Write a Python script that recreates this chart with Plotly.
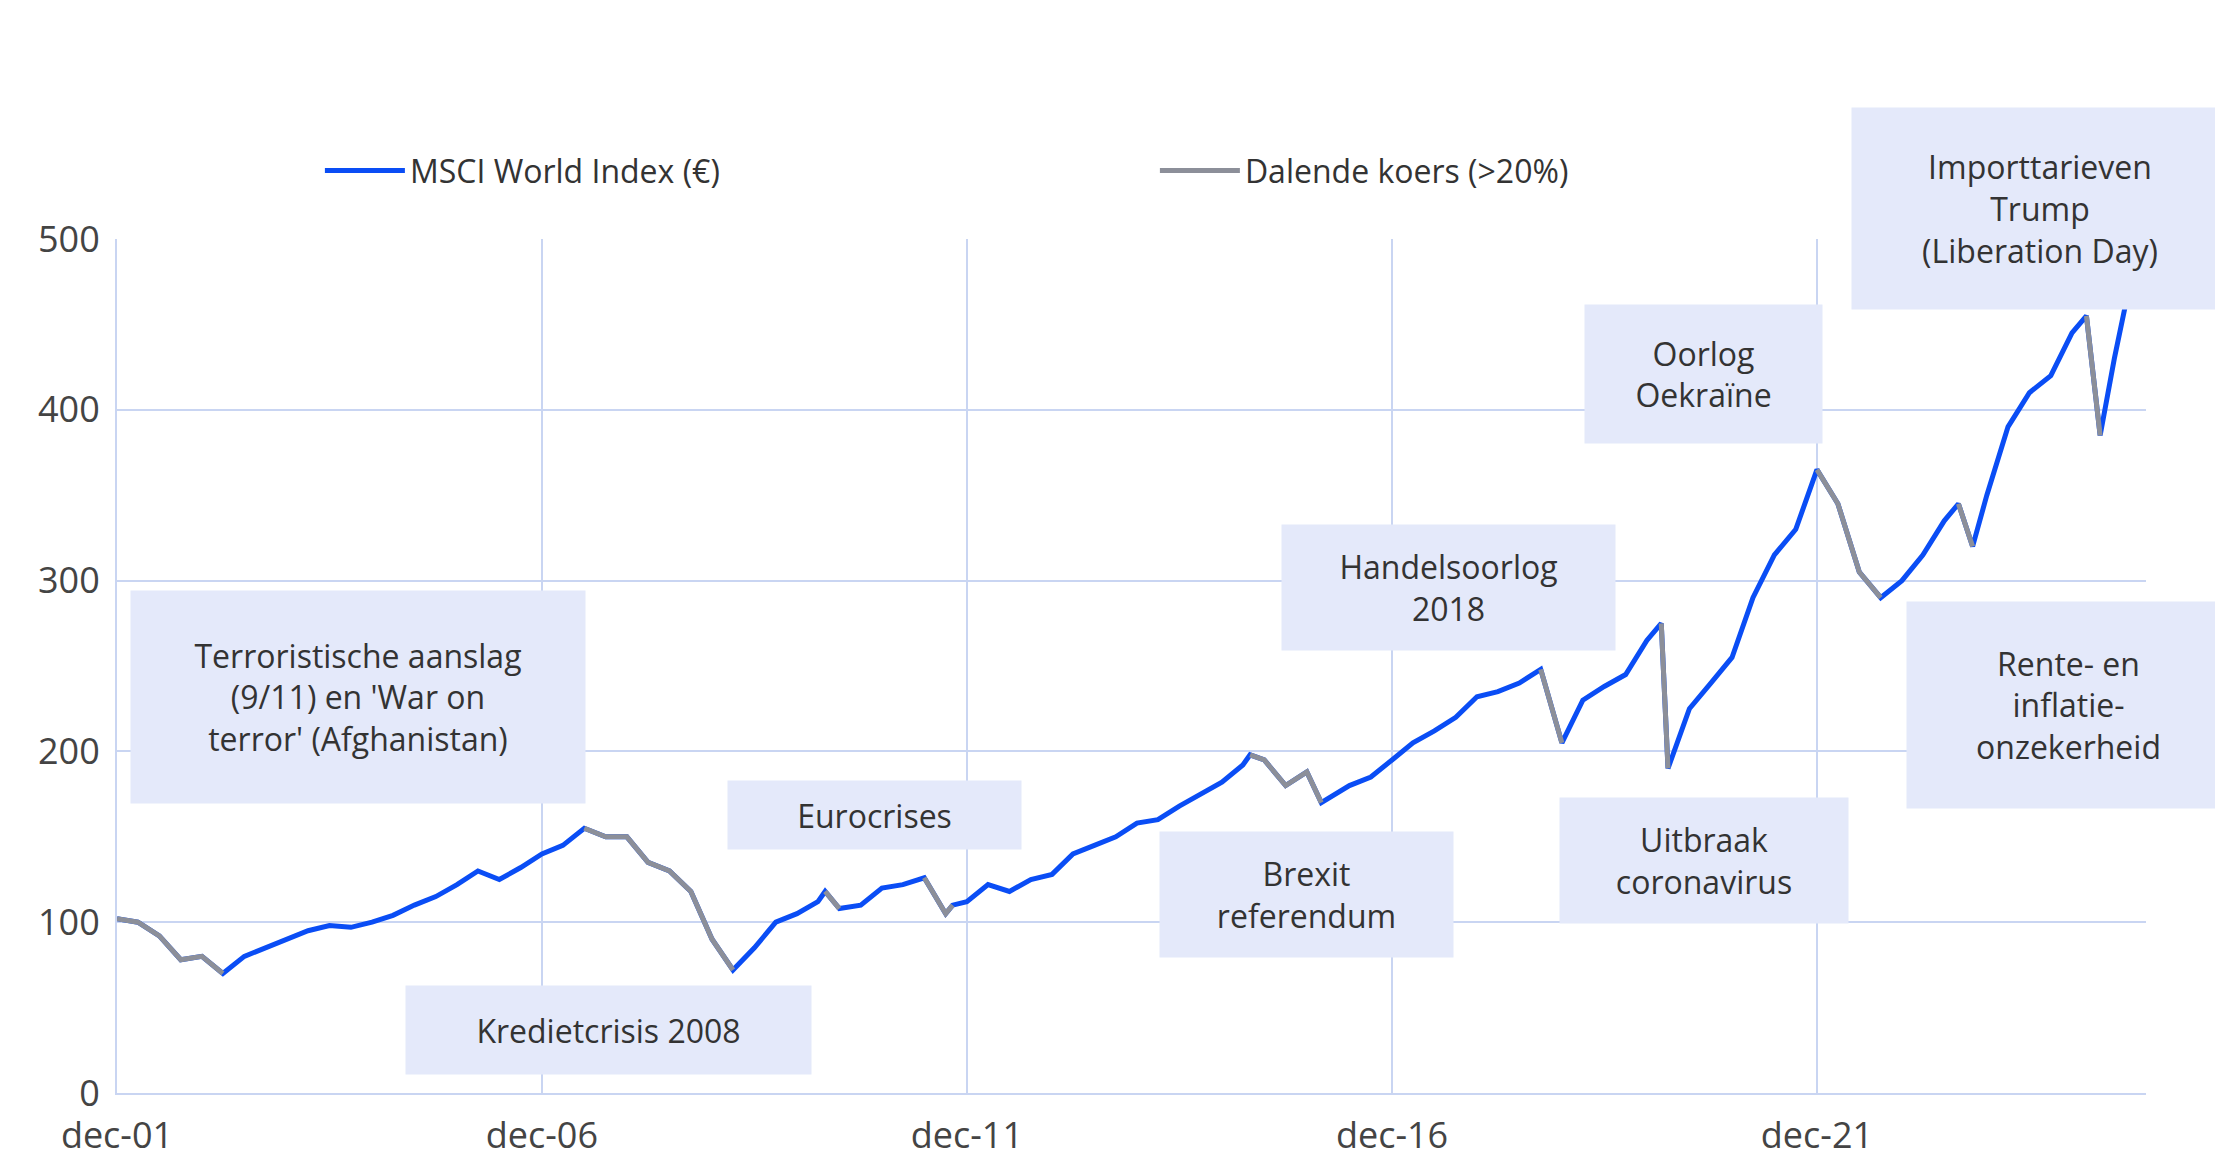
import plotly.graph_objects as go

dates = ["2001-12","2002-03","2002-06","2002-09","2002-12","2003-03","2003-06","2003-09","2003-12",
"2004-03","2004-06","2004-09","2004-12","2005-03","2005-06","2005-09","2005-12","2006-03","2006-06","2006-09","2006-12",
"2007-03","2007-06","2007-09","2007-12","2008-03","2008-06","2008-09","2008-12","2009-03","2009-06","2009-09","2009-12",
"2010-03","2010-04","2010-06","2010-09","2010-12","2011-03","2011-06","2011-09","2011-10","2011-12",
"2012-03","2012-06","2012-09","2012-12","2013-03","2013-06","2013-09","2013-12","2014-03","2014-06","2014-09","2014-12",
"2015-03","2015-04","2015-06","2015-09","2015-12","2016-02","2016-06","2016-09","2016-12",
"2017-03","2017-06","2017-09","2017-12","2018-03","2018-06","2018-09","2018-12","2019-03","2019-06","2019-09","2019-12",
"2020-02","2020-03","2020-06","2020-09","2020-12","2021-03","2021-06","2021-09","2021-12",
"2022-03","2022-06","2022-09","2022-12","2023-03","2023-06","2023-08","2023-10","2023-12",
"2024-03","2024-06","2024-09","2024-12","2025-02","2025-04","2025-06","2025-08","2025-10"]
values = [102,100,92,78,80,70,80,85,90,
95,98,97,100,104,110,115,122,130,125,132,140,
145,155,150,150,135,130,118,90,72,85,100,105,
112,118,108,110,120,122,126,105,110,112,
122,118,125,128,140,145,150,158,160,168,175,182,
192,198,195,180,188,170,180,185,195,
205,212,220,232,235,240,248,205,230,238,245,265,
275,190,225,240,255,290,315,330,365,
345,305,290,300,315,335,345,320,350,
390,410,420,445,455,385,430,470,510]
decline_periods = [("2001-12","2003-03"),("2007-06","2009-03"),("2010-04","2010-06"),("2011-06","2011-10"),
("2015-04","2016-02"),("2018-09","2018-12"),("2020-02","2020-03"),("2021-12","2022-09"),
("2023-08","2023-10"),("2025-02","2025-04")]

gray = [v if any(a <= d <= b for a, b in decline_periods) else None for d, v in zip(dates, values)]
xd = [d + "-01" for d in dates]

fig = go.Figure()
fig.add_trace(go.Scatter(x=xd, y=values, mode="lines", name="MSCI World Index (€)",
                         line=dict(color="#0a4df5", width=5), cliponaxis=False))
fig.add_trace(go.Scatter(x=xd, y=gray, mode="lines", name="Dalende koers (>20%)",
                         line=dict(color="#8c8f99", width=5), connectgaps=False))

notes = [
 ("2004-10-01",232,"Terroristische aanslag<br>(9/11) en 'War on<br>terror' (Afghanistan)",454,212),
 ("2007-09-15",37,"Kredietcrisis 2008",405,88),
 ("2010-11-01",163,"Eurocrises",293,68),
 ("2015-12-01",116,"Brexit<br>referendum",293,125),
 ("2017-08-01",296,"Handelsoorlog<br>2018",333,125),
 ("2020-08-01",136,"Uitbraak<br>coronavirus",288,125),
 ("2020-08-01",421,"Oorlog<br>Oekraïne",237,138),
 ("2024-07-15",577,"Importtarieven<br>Trump<br>(Liberation Day)",376,201),
 ("2024-11-15",227,"Rente- en<br>inflatie-<br>onzekerheid",323,206),
]
for x, y, t, w, h in notes:
    kw = dict(y=y / 500, yref="paper") if y > 500 else dict(y=y)
    fig.add_annotation(x=x, text=t, showarrow=False, width=w, height=h,
                       bgcolor="#e4e9fa", borderpad=0, font=dict(size=32, color="#333333"), **kw)

ticks = ["2001-12-01","2006-12-01","2011-12-01","2016-12-01","2021-12-01"]
fig.update_layout(
    width=2223, height=1162, plot_bgcolor="white", paper_bgcolor="white",
    margin=dict(l=109, r=85, t=231, b=77),
    font=dict(family="Open Sans", size=36, color="#444444"),
    legend=dict(orientation="h", x=0.1, y=1.08, xanchor="left", yanchor="middle",
                font=dict(size=32, color="#333333"), itemwidth=80, entrywidth=740),
    xaxis=dict(range=["2001-12-01","2025-10-15"], tickvals=ticks,
               ticktext=["dec-01","dec-06","dec-11","dec-16","dec-21"],
               showgrid=True, gridcolor="#c9d5f2", gridwidth=2, zeroline=False,
               showline=True, linecolor="#c9d5f2", linewidth=2, ticklabelstandoff=10),
    yaxis=dict(range=[0,500], tickvals=[0,100,200,300,400,500], showgrid=True,
               gridcolor="#c9d5f2", gridwidth=2, zeroline=False, showline=True,
               linecolor="#c9d5f2", linewidth=2, ticks="", ticklabelstandoff=8),
)
fig.write_html("out.html")
